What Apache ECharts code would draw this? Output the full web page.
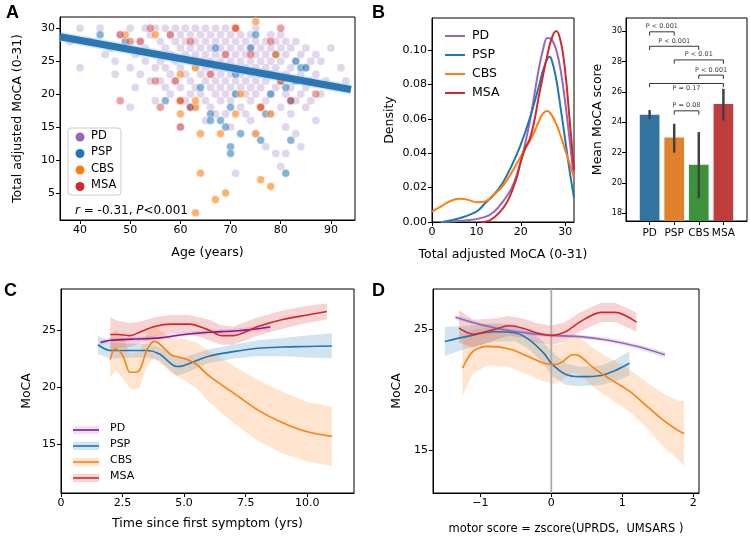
<!DOCTYPE html>
<html><head><meta charset="utf-8">
<script src="https://cdn.jsdelivr.net/npm/echarts@6/dist/echarts.min.js"></script>
<style>html,body{margin:0;padding:0;background:#fff}#c{width:750px;height:541px}</style>
</head><body><div id="c"></div>
<script>
// ---------- DATA ----------
const groups = ['PD','PSP','CBS','MSA'];
const scatterPD = [[38,28],[40,30],[40,24],[42,28],[44,30],[45,26],[46,27],[47,25],[47,23],[48,29],[49,27],[50,30],[50,24],[50,18],[51,26],[51,21],[52,28],[52,23],[53,30],[53,27],[53,25],[54,29],[54,22],[55,30],[55,26],[55,24],[55,19],[56,28],[56,25],[56,22],[57,30],[57,27],[57,24],[57,21],[58,29],[58,26],[58,23],[58,20],[59,30],[59,28],[59,25],[59,22],[60,29],[60,27],[60,24],[60,21],[60,15],[61,30],[61,28],[61,26],[61,23],[61,19],[62,29],[62,27],[62,25],[62,22],[62,20],[63,30],[63,28],[63,26],[63,24],[63,21],[63,18],[64,29],[64,27],[64,25],[64,23],[64,20],[65,30],[65,28],[65,26],[65,24],[65,22],[65,19],[65,16],[66,29],[66,27],[66,25],[66,23],[66,21],[66,18],[67,30],[67,28],[67,26],[67,24],[67,22],[67,20],[67,17],[68,29],[68,27],[68,25],[68,23],[68,21],[68,19],[69,30],[69,28],[69,26],[69,24],[69,22],[69,20],[69,17],[70,29],[70,27],[70,25],[70,23],[70,21],[70,19],[70,15],[71,30],[71,28],[71,26],[71,24],[71,22],[71,20],[71,8],[72,29],[72,27],[72,25],[72,23],[72,21],[72,18],[73,28],[73,26],[73,24],[73,22],[73,20],[73,17],[74,29],[74,27],[74,25],[74,23],[74,21],[74,19],[74,16],[75,30],[75,28],[75,26],[75,24],[75,22],[75,20],[75,14],[76,27],[76,25],[76,23],[76,21],[76,18],[77,28],[77,26],[77,24],[77,22],[77,19],[77,12],[78,29],[78,27],[78,25],[78,23],[78,20],[78,17],[79,28],[79,26],[79,24],[79,21],[79,11],[80,29],[80,27],[80,25],[80,22],[80,18],[80,9],[81,28],[81,26],[81,23],[81,20],[81,15],[81,11],[82,27],[82,24],[82,21],[82,17],[83,28],[83,25],[83,22],[83,19],[83,14],[84,26],[84,23],[84,20],[84,12],[85,27],[85,24],[85,21],[85,18],[86,25],[86,22],[86,19],[87,26],[87,23],[87,16],[88,25],[88,20],[89,22],[90,27],[92,24],[93,22]];
const scatterPSP = [[44,29],[49,28],[57,19],[62,18],[64,21],[66,17],[66,16],[67,27],[68,16],[69,15],[70,18],[70,12],[70,11],[71,20],[71,23],[72,14],[74,27],[75,29],[76,13],[77,17],[78,20],[79,26],[81,21],[82,19],[82,13],[81,8],[83,25],[84,24],[85,24],[83,22]];
const scatterCBS = [[49,29],[55,29],[60,23],[60,19],[60,17],[63,24],[63,18],[63,19],[64,8],[63,2],[64,14],[67,4],[68,14],[69,5],[71,17],[71,30],[72,20],[75,31],[75,14],[76,7],[76,18],[78,6],[78,17],[79,26],[80,22]];
const scatterMSA = [[48,19],[48,29],[50,28],[52,28],[54,30],[55,22],[56,18],[58,29],[59,22],[60,19],[60,15],[62,28],[62,18],[66,23],[69,26],[71,30],[74,26],[76,18],[78,28],[80,30],[80,22],[82,19],[87,20]];
const regLine = [[36,28.7],[94,20.7]];

const densPD = [[2,0],[8,0.001],[12,0.003],[14,0.006],[16,0.012],[18,0.02],[20,0.035],[22,0.058],[24,0.088],[25,0.1],[26,0.107],[27,0.106],[28,0.1],[29,0.088],[30,0.07],[31,0.048],[32,0.025]];
const densPSP = [[2.5,0],[6,0.002],[10,0.006],[12,0.011],[14,0.016],[16,0.023],[18,0.033],[20,0.045],[22,0.06],[24,0.078],[25,0.088],[26,0.095],[26.5,0.096],[27,0.094],[28,0.083],[29,0.066],[30,0.048],[31,0.03],[32,0.014]];
const densCBS = [[0,0.006],[2,0.009],[4,0.012],[6,0.0135],[8,0.013],[10,0.0115],[12,0.012],[14,0.016],[16,0.021],[18,0.029],[20,0.038],[22,0.047],[23,0.052],[24,0.058],[25,0.063],[26,0.0645],[27,0.062],[28,0.057],[29,0.05],[30,0.042],[31,0.034],[32,0.026]];
const densMSA = [[11,0],[13,0.001],[15,0.005],[17,0.012],[19,0.025],[20,0.035],[21,0.043],[22,0.048],[23,0.058],[24,0.072],[25,0.085],[26,0.097],[27,0.107],[28,0.111],[29,0.105],[30,0.088],[31,0.06],[32,0.03]];

const barMeans = [24.5, 23.0, 21.2, 25.2];
const barLow = [24.2, 22.0, 19.0, 24.1];
const barHigh = [24.8, 23.9, 23.35, 26.2];
const brackets = [ // [i, j, y, label, labelY]
  [0,1,29.95,'P < 0.001',30.3],
  [0,2,29.0,'P < 0.001',29.35],
  [1,3,28.1,'P < 0.01',28.45],
  [2,3,27.1,'P < 0.001',27.45],
  [0,3,26.55,'P = 0.17',26.2],
  [1,2,24.75,'P = 0.08',25.1]
];

// panel C: [x, mean, low, high]
const cPD = [[1.6,23.9,23.7,24.1],[2,24.1,23.9,24.3],[3,24.2,24.0,24.4],[4,24.3,24.1,24.5],[5,24.6,24.4,24.8],[6,24.8,24.6,25.0],[7,24.9,24.7,25.1],[8,25.1,24.85,25.35],[8.5,25.25,24.95,25.5]];
const cPSP = [[1.5,23.7,22.9,24.5],[2,23.2,22.5,23.9],[3,23.2,22.6,23.8],[3.5,23.2,22.6,23.8],[4,22.9,22.3,23.5],[4.7,21.8,21.0,22.6],[5,21.9,21.2,22.6],[6,22.7,22.1,23.3],[7,23.1,22.5,23.7],[8,23.4,22.7,24.1],[9,23.5,22.7,24.3],[10,23.55,22.6,24.5],[11,23.6,22.5,24.7]];
const cCBS = [[2,22.4,20.8,24.4],[2.2,23.4,21.5,25.0],[2.5,22.8,20.8,24.5],[2.8,21.3,19.9,22.9],[3.0,21.3,19.8,23.0],[3.2,21.5,20.0,23.2],[3.5,23.3,21.9,24.8],[3.8,24.0,22.6,25.3],[4.5,22.8,21.2,24.3],[5,22.5,20.6,24.2],[5.5,22.0,19.9,23.9],[6,21.0,18.7,23.2],[7,19.5,16.9,21.9],[8,18.0,15.3,20.6],[9,16.9,14.2,19.6],[10,16.1,13.5,18.7],[11,15.7,13.1,18.3]];
const cMSA = [[2,24.6,23.2,26.1],[2.3,24.6,23.4,25.8],[2.8,24.5,23.5,25.6],[3.2,24.8,23.8,25.7],[3.8,25.3,24.4,26.1],[4.5,25.5,24.7,26.3],[5.2,25.5,24.7,26.3],[6,25.0,24.1,25.9],[6.5,24.5,23.7,25.4],[7,24.5,23.7,25.3],[8,25.3,24.5,26.1],[9,25.9,25.1,26.7],[10,26.3,25.6,27.1],[10.8,26.6,25.9,27.3]];

// panel D
const dPD = [[-1.35,26.0,25.8,26.2],[-1,25.4,25.25,25.55],[-0.6,24.9,24.75,25.05],[-0.2,24.6,24.45,24.75],[0,24.5,24.35,24.65],[0.4,24.4,24.25,24.55],[0.8,24.1,23.95,24.3],[1.2,23.6,23.4,23.8],[1.6,22.9,22.65,23.15]];
const dPSP = [[-1.5,24.0,22.8,25.2],[-1.2,24.4,23.4,25.3],[-0.8,24.8,24.0,25.5],[-0.5,24.7,24.0,25.4],[-0.3,24.1,23.3,24.9],[-0.1,23.0,22.1,23.9],[0,22.2,21.2,23.2],[0.2,21.3,20.4,22.2],[0.4,21.1,20.3,21.9],[0.7,21.2,20.4,22.0],[0.9,21.6,20.7,22.5],[1.1,22.2,21.2,23.2]];
const dCBS = [[-1.25,21.8,19.5,24.5],[-1.1,23.2,21.4,25.0],[-0.9,23.6,22.0,25.1],[-0.6,23.4,21.9,24.9],[-0.3,22.7,21.2,24.2],[-0.1,22.2,20.7,23.7],[0.05,22.1,20.5,23.7],[0.15,22.3,20.8,23.8],[0.3,22.9,21.4,24.4],[0.4,22.8,21.3,24.3],[0.6,21.8,20.2,23.4],[0.8,21.0,19.4,22.7],[1.1,19.9,18.2,21.7],[1.3,18.9,17.1,20.8],[1.6,17.4,15.2,19.6],[1.8,16.6,14.2,19.1],[1.87,16.4,13.7,19.1]];
const dMSA = [[-1.3,25.1,23.9,26.6],[-1.1,24.6,23.5,25.8],[-0.8,25.0,24.1,25.9],[-0.6,25.3,24.5,26.1],[-0.4,25.1,24.3,25.9],[-0.2,24.7,23.9,25.5],[0,24.5,23.7,25.3],[0.2,24.8,24.0,25.6],[0.4,25.6,24.8,26.4],[0.7,26.4,25.6,27.2],[0.9,26.4,25.6,27.2],[1.2,25.6,24.8,26.4]];

// ---------- CHART ----------
const COL = {PD:'#9467bd', PSP:'#1f77b4', CBS:'#ff7f0e', MSA:'#d62728'};
const FONT = 'DejaVu Sans';
const chart = echarts.init(document.getElementById('c'), null, {renderer:'canvas'});

function valAxis(idx, min, max, ticks, name, gap, fmt, extra) {
  return Object.assign({
    type:'value', gridIndex: idx, min, max, name, nameLocation:'middle', nameGap: gap,
    nameTextStyle:{color:'#000', fontFamily:FONT, fontSize:12.5},
    axisLine:{show:true, onZero:false, lineStyle:{color:'#000', width:1}},
    axisTick:{show:true, length:4, lineStyle:{color:'#000'}, customValues: ticks},
    axisLabel:{color:'#000', fontFamily:FONT, fontSize:11, customValues: ticks, formatter: fmt || (v=>String(v)), margin:5},
    splitLine:{show:false}
  }, extra||{});
}
function band(xi, yi, arr, color, z) {
  return {type:'custom', xAxisIndex:xi, yAxisIndex:yi, z: z||1, silent:true, data:[[arr[0][0], arr[0][1]]],
    renderItem:(params, api)=>{
      const up = arr.map(p=>api.coord([p[0], p[3]]));
      const lo = arr.slice().reverse().map(p=>api.coord([p[0], p[2]]));
      return {type:'polygon', shape:{points: up.concat(lo)}, style:{fill: color, opacity:0.2}};
    }};
}
function line(xi, yi, arr, color, w, z) {
  return {type:'line', xAxisIndex:xi, yAxisIndex:yi, data: arr.map(p=>[p[0],p[1]]), showSymbol:false, smooth:0.3,
    lineStyle:{color, width:w||1.5}, z: z||3, silent:true};
}
function sc(arr, color, op) {
  return {type:'scatter', xAxisIndex:0, yAxisIndex:0, data: arr, symbolSize:8,
    itemStyle:{color, opacity:op, borderColor:'#fff', borderWidth:0.8}, silent:true};
}

const series = [];
series.push(sc(scatterPD, COL.PD, 0.27), sc(scatterPSP, COL.PSP, 0.55), sc(scatterCBS, COL.CBS, 0.6), sc(scatterMSA, COL.MSA, 0.45));
series.push({type:'line', xAxisIndex:0, yAxisIndex:0, data: regLine, showSymbol:false, lineStyle:{color:'#2a77b4', width:7}, z:5});
series.push({type:'line', xAxisIndex:0, yAxisIndex:0, data: regLine, showSymbol:false, lineStyle:{color:'#a9d0ee', width:10, opacity:0.5}, z:4});

[[densPD,COL.PD],[densPSP,COL.PSP],[densCBS,COL.CBS],[densMSA,COL.MSA]].forEach(([d,c])=>{
  series.push({type:'line', xAxisIndex:1, yAxisIndex:1, data:d, smooth:0.4, showSymbol:false, lineStyle:{color:c, width:2}});
});

const barCols = ['#3274a1','#e1812c','#3a923a','#c03d3e'];
series.push({type:'custom', xAxisIndex:2, yAxisIndex:2, data: barMeans.map((m,i)=>[i,m,barLow[i],barHigh[i]]),
  renderItem:(params, api)=>{
    const i = api.value(0);
    const cs = params.coordSys;
    const tl = api.coord([i-0.4, api.value(1)]);
    const tr = api.coord([i+0.4, api.value(1)]);
    const eh = api.coord([i, api.value(3)]);
    const el = api.coord([i, api.value(2)]);
    return {type:'group', children:[
      {type:'rect', shape:{x:tl[0], y:tl[1], width:tr[0]-tl[0], height:cs.y+cs.height-tl[1]}, style:{fill:barCols[i]}},
      {type:'line', shape:{x1:eh[0], y1:eh[1], x2:el[0], y2:el[1]}, style:{stroke:'#424242', lineWidth:2.5}}
    ]};
  }, clip:true});
brackets.forEach(b=>{
  series.push({type:'line', xAxisIndex:2, yAxisIndex:2, data:[[b[0],b[2]-0.25],[b[0],b[2]],[b[1],b[2]],[b[1],b[2]-0.25]],
    showSymbol:false, lineStyle:{color:'#000', width:0.8}, z:6});
});
series.push({type:'scatter', xAxisIndex:2, yAxisIndex:2, symbolSize:0, z:7,
  data: brackets.map(b=>({value:[(b[0]+b[1])/2, b[4]], name:b[3]})),
  label:{show:true, position:'inside', formatter:p=>p.name, fontSize:6.5, fontFamily:FONT, color:'#000'}});

[[cPD,'#7b1d8e'],[cPSP,COL.PSP],[cCBS,COL.CBS],[cMSA,COL.MSA]].forEach(([d,c],k)=>{
  series.push(band(3,3,d, k===0?'#c060d0':c, 1));
  series.push(line(3,3,d,c,1.6,3));
});
series.push({type:'line', xAxisIndex:4, yAxisIndex:4, data:[[0,11.5],[0,28.33]], showSymbol:false, lineStyle:{color:'#aaaaaa', width:1.8}, z:2});
[[dPD,COL.PD],[dPSP,COL.PSP],[dCBS,COL.CBS],[dMSA,COL.MSA]].forEach(([d,c])=>{
  series.push(band(4,4,d,c,1));
  series.push(line(4,4,d,c,1.6,3));
});

const grid = (l,t,w,h)=>({left:l, top:t, width:w, height:h, show:true, borderColor:'#000', borderWidth:1, backgroundColor:'transparent'});

const g = [];
const txt = (x,y,t,fs,extra)=>({type:'text', x, y, style:Object.assign({text:t, fontSize:fs||11, fontFamily:FONT, fill:'#000'}, extra||{})});
['A','B','C','D'].forEach((l,i)=>{
  const pos=[[6,4],[372,4],[4,282],[372,282]][i];
  g.push(txt(pos[0],pos[1],l,18,{fontWeight:'bold', fontFamily:'Liberation Sans'}));
});
// legend A
g.push({type:'rect', shape:{x:68, y:128, width:53, height:67, r:3}, style:{fill:'rgba(255,255,255,0.85)', stroke:'#cccccc', lineWidth:1}, z:10});
groups.forEach((n,i)=>{
  const y=137+i*16.5;
  g.push({type:'circle', shape:{cx:80, cy:y, r:4.5}, style:{fill:COL[n]}, z:11});
  g.push(txt(91,y-7,n,11.5,{}));
});
g.push({type:'text', x:75, y:205, z:11, style:{text:'{i|r} = -0.31, {i|P}<0.001', fontSize:12, fontFamily:FONT, fill:'#000',
  rich:{i:{fontStyle:'italic', fontSize:12, fontFamily:FONT}}}});
// legend B
groups.forEach((n,i)=>{
  const y=36+i*19;
  g.push({type:'line', shape:{x1:445, y1:y, x2:465, y2:y}, style:{stroke:COL[n], lineWidth:2}, z:11});
  g.push(txt(472,y-7,n,12.5,{}));
});
// legend C
const cLeg = ['#7b1d8e',COL.PSP,COL.CBS,COL.MSA];
groups.forEach((n,i)=>{
  const y=430+i*16;
  g.push({type:'rect', shape:{x:73, y:y-4, width:26, height:8}, style:{fill: i===0?'#c060d0':cLeg[i], opacity:0.2}, z:11});
  g.push({type:'line', shape:{x1:73, y1:y, x2:99, y2:y}, style:{stroke:cLeg[i], lineWidth:1.6}, z:11});
  g.push(txt(110,y-7,n,11,{}));
});
g.forEach(e=>{ if(e.z===undefined) e.z=11; });

chart.setOption({
  animation:false,
  grid:[grid(60,17,295,203), grid(432,18,142,204), grid(626,18,121,203), grid(61,289,293,204), grid(433,289,266,204)],
  xAxis:[
    valAxis(0,36,94.8,[40,50,60,70,80,90],'Age (years)',26),
    valAxis(1,0,32,[0,10,20,30],'Total adjusted MoCA (0-31)',26),
    valAxis(2,-0.96,3.96,[0,1,2,3],'',20,v=>groups[v]||'',{axisLabel:{color:'#000', fontFamily:FONT, fontSize:10.5, customValues:[0,1,2,3], formatter:v=>groups[v]||'', margin:7}}),
    valAxis(3,0,11.9,[0,2.5,5,7.5,10],'Time since first symptom (yrs)',24,v=>v===0?'0':v.toFixed(1)),
    valAxis(4,-1.666,2.08,[-1,0,1,2],'motor score = zscore(UPRDS,  UMSARS )',30,v=>v<0?'\u2212'+(-v):String(v),{nameTextStyle:{color:'#000', fontFamily:FONT, fontSize:11.5}})
  ],
  yAxis:[
    valAxis(0,0.9,31.7,[5,10,15,20,25,30],'Total adjusted MoCA (0-31)',36),
    valAxis(1,0,0.1186,[0,0.02,0.04,0.06,0.08,0.1],'Density',36,v=>v.toFixed(2)),
    valAxis(2,17.5,30.86,[18,20,22,24,26,28,30],'Mean MoCA score',22,null,{axisLabel:{color:'#000', fontFamily:FONT, fontSize:8, customValues:[18,20,22,24,26,28,30], margin:4}}),
    valAxis(3,10.76,28.57,[15,20,25],'MoCA',28),
    valAxis(4,11.5,28.33,[15,20,25],'MoCA',30)
  ],
  series,
  graphic: g
});
</script></body></html>
